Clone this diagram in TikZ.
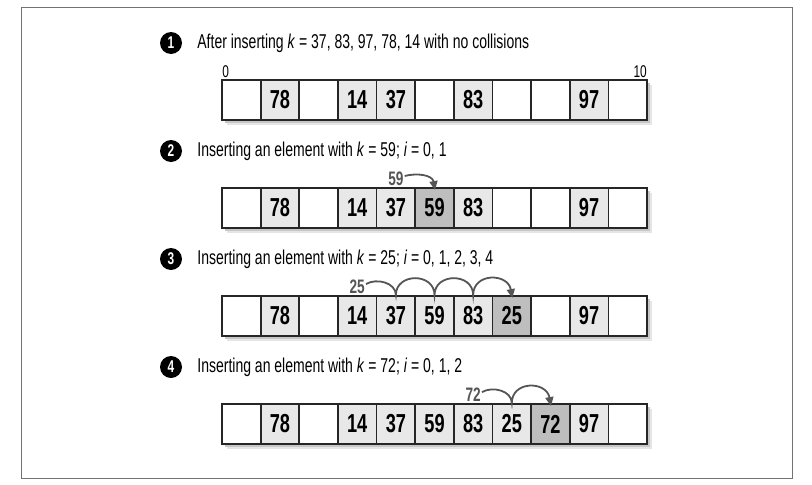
\documentclass[tikz,border=0pt]{standalone}
\usepackage{fontspec}
\setmainfont[FakeStretch=0.7]{Liberation Sans}
\usetikzlibrary{
  arrows.meta,
  positioning,
}
\definecolor{heldgray}{HTML}{E8E8E8}
\definecolor{freshgray}{HTML}{BEBEBE}
\definecolor{hopgray}{HTML}{555555}
\tikzset{
  >={Triangle[length=9pt,width=8pt]},
  slot/.style={draw=black!85, line width=1.8pt, minimum width=38.64pt,
    minimum height=40pt, inner sep=0pt, fill=white,
    font=\fontsize{26}{26}\selectfont\bfseries},
  held/.style={slot, fill=heldgray},
  fresh/.style={slot, fill=freshgray},
  bullet/.style={circle, fill=black, inner sep=0pt, minimum size=22pt,
    text=white, font=\fontsize{17}{17}\selectfont\bfseries},
  caption/.style={inner sep=0pt, font=\fontsize{20}{20}\selectfont},
  key/.style={text=hopgray, inner sep=1pt,
    font=\fontsize{19.5}{19.5}\selectfont\bfseries},
  index/.style={inner sep=1pt, font=\fontsize{17}{17}\selectfont},
  hop/.style={draw=hopgray, line width=1.8pt, shorten >=-3pt},
}
\begin{document}
\begin{tikzpicture}[x=1pt, y=-1pt]
  \useasboundingbox (0,0) rectangle (812,485);
  \draw[black!55, line width=1pt] (21,7) rectangle (792,478);

  % shadows under the arrays
  \foreach \y in {100,208,316,424} {
    \fill[black!10] (227,\y-15) rectangle (652,\y+25);
    \fill[black!22] (225,\y-17) rectangle (650,\y+23);
  }

  % 1: no collisions
  \node[bullet] (b1) at (171,43) {1};
  \node[caption, right=15pt of b1] (t1) {After inserting \textit{k} = 37, 83, 97, 78, 14 with no collisions};
  \foreach \st/\val [count=\i from 0] in {slot/, held/78, slot/, held/14, held/37, slot/, held/83, slot/, slot/, held/97, slot/}
    \node[\st] (r1c\i) at (241.32+38.64*\i,100) {\val};
  \node[index, anchor=south west] (lo) at (r1c0.north west) {0};
  \node[index, anchor=south east] (hi) at (r1c10.north east) {10};

  % 2: k = 59
  \node[bullet] (b2) at (171,151) {2};
  \node[caption, right=15pt of b2] (t2) {Inserting an element with \textit{k} = 59; \textit{i} = 0, 1};
  \foreach \st/\val [count=\i from 0] in {slot/, held/78, slot/, held/14, held/37, fresh/59, held/83, slot/, slot/, held/97, slot/}
    \node[\st] (r2c\i) at (241.32+38.64*\i,208) {\val};
  \node[key, above=0pt of r2c4] (k2) {59};
  \draw[hop, ->] ([yshift=3pt]k2.east) to[out=15, in=100] (r2c5.north);

  % 3: k = 25
  \node[bullet] (b3) at (171,259) {3};
  \node[caption, right=15pt of b3] (t3) {Inserting an element with \textit{k} = 25; \textit{i} = 0, 1, 2, 3, 4};
  \foreach \st/\val [count=\i from 0] in {slot/, held/78, slot/, held/14, held/37, held/59, held/83, fresh/25, slot/, held/97, slot/}
    \node[\st] (r3c\i) at (241.32+38.64*\i,316) {\val};
  \node[key, above=0pt of r3c3] (k3) {25};
  \draw[hop, ->] ([yshift=3pt]k3.east) to[out=30, in=90] (r3c4.north)
    to[out=90, in=90, looseness=1.5] (r3c5.north)
    to[out=90, in=90, looseness=1.5] (r3c6.north)
    to[out=90, in=100, looseness=1.5] (r3c7.north);

  % 4: k = 72
  \node[bullet] (b4) at (171,367) {4};
  \node[caption, right=15pt of b4] (t4) {Inserting an element with \textit{k} = 72; \textit{i} = 0, 1, 2};
  \foreach \st/\val [count=\i from 0] in {slot/, held/78, slot/, held/14, held/37, held/59, held/83, held/25, fresh/72, held/97, slot/}
    \node[\st] (r4c\i) at (241.32+38.64*\i,424) {\val};
  \node[key, above=0pt of r4c6] (k4) {72};
  \draw[hop, ->] ([yshift=3pt]k4.east) to[out=30, in=90] (r4c7.north)
    to[out=90, in=100, looseness=1.5] (r4c8.north);
\end{tikzpicture}
\end{document}
